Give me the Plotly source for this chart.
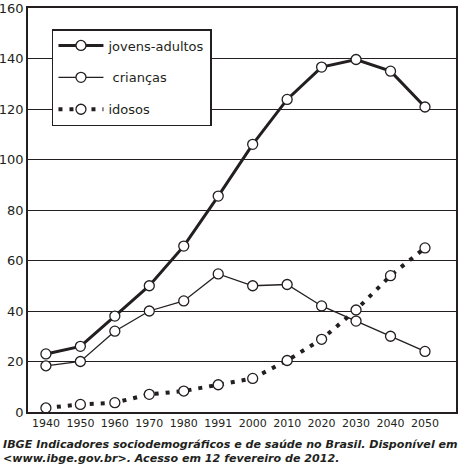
import plotly.graph_objects as go

# valores (milhões de pessoas)
anos = ["1940", "1950", "1960", "1970", "1980", "1991",
        "2000", "2010", "2020", "2030", "2040", "2050"]
jovens_adultos = [23, 26, 38, 50, 65.7, 85.5, 106, 123.8, 136.6, 139.6, 135, 120.8]
criancas = [18.3, 20, 32, 40, 44, 54.7, 50, 50.5, 42, 36, 30, 24]
idosos = [1.6, 3, 3.7, 7, 8.3, 10.8, 13.3, 20.4, 28.8, 40.4, 54, 65]

INK = "#231f20"
marker = dict(symbol="circle", size=10, color="white", line=dict(color=INK, width=1.3))

fig = go.Figure()
fig.add_trace(go.Scatter(
    x=anos, y=jovens_adultos, name="jovens-adultos", mode="lines+markers",
    line=dict(color=INK, width=3), marker=marker, legendgroup="a",
))
fig.add_trace(go.Scatter(
    x=anos, y=criancas, name=" crianças", mode="lines+markers",
    line=dict(color=INK, width=1.3), marker=marker, legendgroup="b",
))
fig.add_trace(go.Scatter(
    x=anos, y=idosos, name="idosos", mode="lines+markers",
    line=dict(color=INK, width=4, dash="4px,7px"), marker=marker, legendgroup="c",
))

fig.update_layout(
    width=458, height=465,
    margin=dict(l=28, r=2, t=8, b=53, autoexpand=False),
    paper_bgcolor="white", plot_bgcolor="white",
    font=dict(family="DejaVu Sans", color=INK, size=12),
    showlegend=True,
    legend=dict(
        x=0.056, y=0.948, xanchor="left", yanchor="top",
        bordercolor=INK, borderwidth=1.5, bgcolor="white",
        font=dict(size=13, family="DejaVu Sans", color=INK),
        itemwidth=45, tracegroupgap=12,
    ),
    xaxis=dict(
        type="category", range=[-0.52, 11.9], automargin=False,
        showgrid=False, showline=True, linecolor=INK, linewidth=1.5, mirror=True,
        ticks="", tickfont=dict(size=11), fixedrange=True,
    ),
    yaxis=dict(
        range=[0, 160], dtick=20, showgrid=True, gridcolor=INK, gridwidth=1.2,
        automargin=False,
        showline=True, linecolor=INK, linewidth=1.5, mirror=True,
        ticks="", tickfont=dict(size=13), zeroline=False,
    ),
    annotations=[dict(
        xref="paper", yref="paper", x=-0.063, y=-0.059, xanchor="left", yanchor="top",
        align="left", showarrow=False,
        text=("<b><i>IBGE Indicadores sociodemográficos e de saúde no Brasil. Disponível em"
              "<br>&lt;www.ibge.gov.br&gt;. Acesso em 12 fevereiro de 2012.</i></b>"),
        font=dict(size=11.1, family="DejaVu Sans", color=INK),
    )],
)

# the page body has a default 8px margin; drop it so the figure fills the window
fig.write_html(
    "out.html",
    config={"displayModeBar": False},
    post_script="document.body.style.margin='0px';document.documentElement.style.overflow='hidden';",
)
